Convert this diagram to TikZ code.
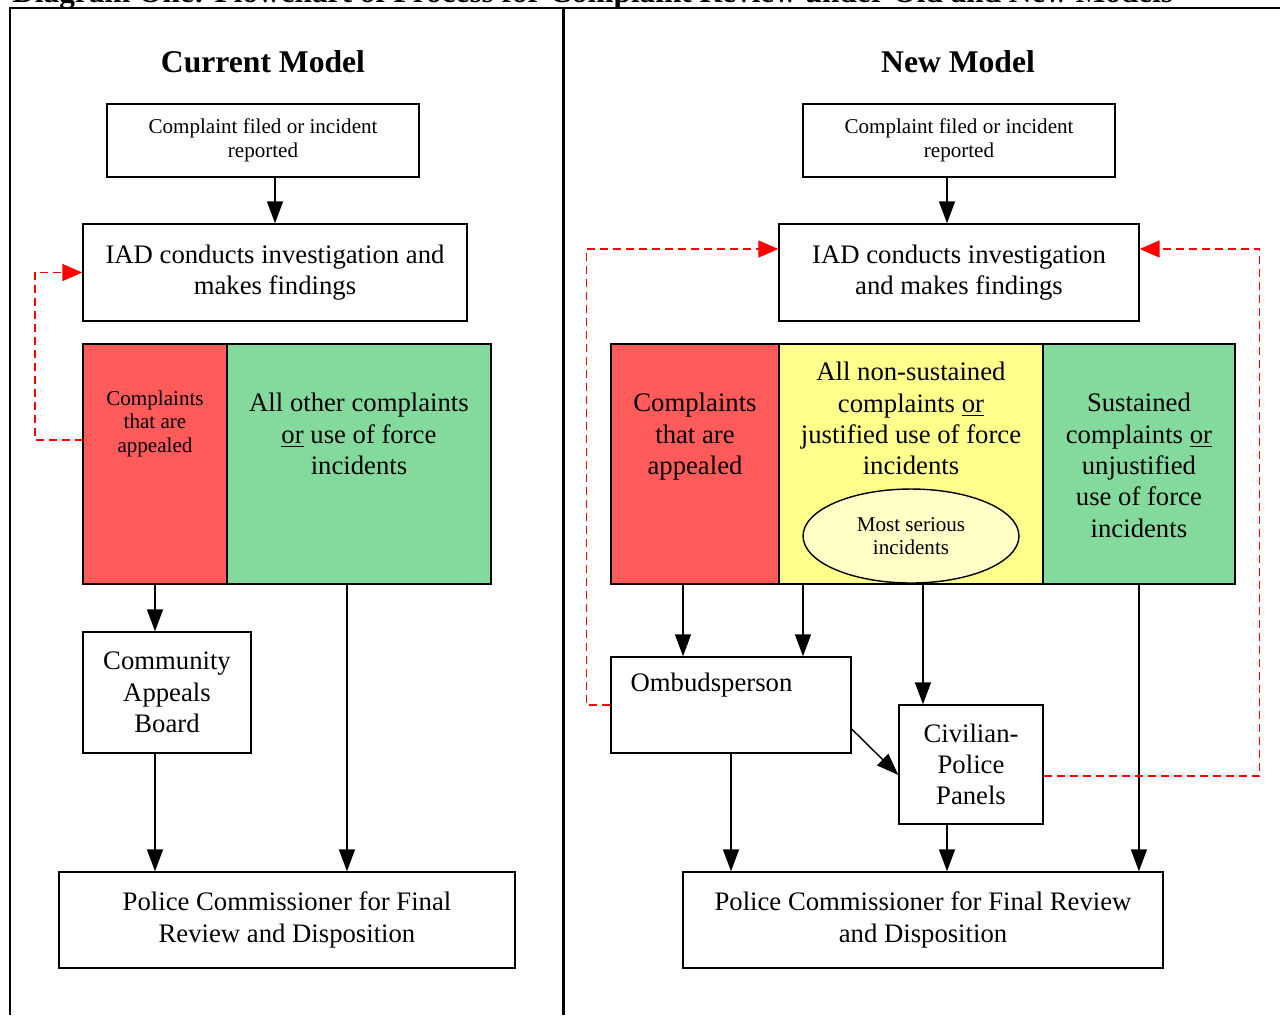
\documentclass[tikz,border=0pt]{standalone}
\usepackage{fontspec}
\setmainfont{Liberation Serif}
\usepackage{tikz}
\usetikzlibrary{arrows.meta,positioning,calc,shapes.geometric}
\definecolor{appealred}{RGB}{255,91,91}
\definecolor{othergreen}{RGB}{132,218,156}
\definecolor{nonyellow}{RGB}{255,255,140}
\definecolor{seriousyellow}{RGB}{255,255,198}
\definecolor{loopred}{RGB}{255,0,0}
\newcommand{\flowbig}{\fontsize{15.2}{17.8}\selectfont}
\newcommand{\flowsmall}{\fontsize{12}{13.4}\selectfont}

\begin{document}
\begin{tikzpicture}[
        x=0.02cm,y=-0.02cm,
        box/.style={draw,line width=0.8pt,fill=white,align=center,inner sep=0pt},
        cell/.style={draw,line width=0.8pt,inner sep=0pt,outer sep=0pt,minimum height=4.8cm},
        celltext/.style={align=center,inner sep=0pt,font=\flowbig},
        arrow/.style={-{Triangle[length=0.44cm,width=0.32cm]},line width=0.8pt},
        loop/.style={-{Triangle[length=0.4cm,width=0.34cm]},loopred,dash pattern=on 0.16cm off 0.1cm,line width=0.8pt},
        heading/.style={inner sep=0pt,font=\fontsize{18}{20}\selectfont\bfseries}
    ]
        \useasboundingbox (0,0) rectangle (1280,1015);
        \clip (0,0) rectangle (1280,1015);

        % Caption and frame
        \node[anchor=base west,inner sep=0pt,font=\fontsize{17.8}{20}\selectfont\bfseries] (caption) at (12,2) {Diagram One: Flowchart of Process for Complaint Review under Old and New Models};
        \draw[line width=0.8pt] (10,1015) -- (10,8) -- (1280,8);
        \draw[line width=1.7pt] (563,8) -- (563,1015);

        % Current model
        \node[heading] (ttlL) at (263,62) {Current Model};
        \node[box,font=\flowsmall,minimum width=6.24cm,minimum height=1.46cm] (fileL) at (263,140.5) {Complaint filed or incident\\reported};
        \node[box,font=\flowbig,minimum width=7.68cm,minimum height=1.94cm] (iadL) at (275,272.5) {IAD conducts investigation and\\makes findings};
        \node[cell,fill=appealred,minimum width=2.88cm] (appL) at (155,464) {};
        \node[cell,fill=othergreen,minimum width=5.28cm,right=0pt of appL] (otherL) {};
        \node[celltext,font=\flowsmall,below=0.92cm of appL.north] (appLtxt) {Complaints\\that are\\appealed};
        \node[celltext,below=0.98cm of otherL.north] (otherLtxt) {All other complaints\\\underline{or} use of force\\incidents};
        \node[box,font=\flowbig,minimum width=3.36cm,minimum height=2.42cm] (cabL) at (167,692.5) {Community\\Appeals\\Board};
        \node[box,font=\flowbig,minimum width=9.12cm,minimum height=1.92cm] (pcL) at (287,920) {Police Commissioner for Final\\Review and Disposition};

        % New model
        \node[heading] (ttlR) at (958,62) {New Model};
        \node[box,font=\flowsmall,minimum width=6.24cm,minimum height=1.46cm] (fileR) at (959,140.5) {Complaint filed or incident\\reported};
        \node[box,font=\flowbig,minimum width=7.2cm,minimum height=1.94cm] (iadR) at (959,272.5) {IAD conducts investigation\\and makes findings};
        \node[cell,fill=appealred,minimum width=3.36cm] (appR) at (695,464) {};
        \node[cell,fill=nonyellow,minimum width=5.28cm,right=0pt of appR] (nonR) {};
        \node[cell,fill=othergreen,minimum width=3.84cm,right=0pt of nonR] (susR) {};
        \node[celltext,below=0.98cm of appR.north] (appRtxt) {Complaints\\that are\\appealed};
        \node[celltext,below=0.36cm of nonR.north] (nonRtxt) {All non-sustained\\complaints \underline{or}\\justified use of force\\incidents};
        \node[celltext,below=0.98cm of susR.north] (susRtxt) {Sustained\\complaints \underline{or}\\unjustified\\use of force\\incidents};
        \node[ellipse,draw,line width=0.8pt,fill=seriousyellow,minimum width=4.32cm,minimum height=1.88cm,inner sep=0pt,align=center,font=\flowsmall] (serR) at (911,536) {Most serious\\incidents};
        \node[box,minimum width=4.8cm,minimum height=1.92cm] (omb) at (731,705) {};
        \node[inner sep=0pt,font=\flowbig,below right=0.32cm and 0.4cm of omb.north west] (ombtxt) {Ombudsperson};
        \node[box,font=\flowbig,minimum width=2.88cm,minimum height=2.38cm] (cpp) at (971,764.5) {Civilian-\\Police\\Panels};
        \node[box,font=\flowbig,minimum width=9.6cm,minimum height=1.92cm] (pcR) at (923,920) {Police Commissioner for Final Review\\and Disposition};

        % Arrows, current model
        \draw[arrow] (fileL.south -| iadL.north) -- (iadL.north);
        \draw[arrow] (appL.south) -- (appL.south |- cabL.north);
        \draw[arrow] (appL.south |- cabL.south) -- (appL.south |- pcL.north);
        \coordinate (otherLout) at ([xshift=-0.24cm]otherL.south);
        \draw[arrow] (otherLout) -- (otherLout |- pcL.north);
        \draw[loop] ([yshift=0.48cm]appL.west) -- ++(-0.96cm,0) |- (iadL.west);

        % Arrows, new model
        \coordinate (fileRout) at ([xshift=-0.24cm]fileR.south);
        \draw[arrow] (fileRout) -- (fileRout |- iadR.north);
        \coordinate (appRout) at ([xshift=-0.24cm]appR.south);
        \draw[arrow] (appRout) -- (appRout |- omb.north);
        \coordinate (nonRomb) at ([xshift=-2.16cm]nonR.south);
        \draw[arrow] (nonRomb) -- (nonRomb |- omb.north);
        \coordinate (nonRcpp) at ([xshift=0.24cm]nonR.south);
        \draw[arrow] (nonRcpp) -- (nonRcpp |- cpp.north);
        \draw[arrow] ([yshift=-0.48cm]omb.east) -- ([yshift=-0.21cm]cpp.west);
        \draw[arrow] (omb.south) -- (omb.south |- pcR.north);
        \coordinate (cppout) at ([xshift=-0.48cm]cpp.south);
        \draw[arrow] (cppout) -- (cppout |- pcR.north);
        \draw[arrow] (susR.south) -- (susR.south |- pcR.north);
        \draw[loop] (omb.west) -- ++(-0.48cm,0) |- ([yshift=0.47cm]iadR.west);
        \draw[loop] ([yshift=-0.23cm]cpp.east) -- ++(4.32cm,0) |- ([yshift=0.47cm]iadR.east);
    \end{tikzpicture}
\end{document}
